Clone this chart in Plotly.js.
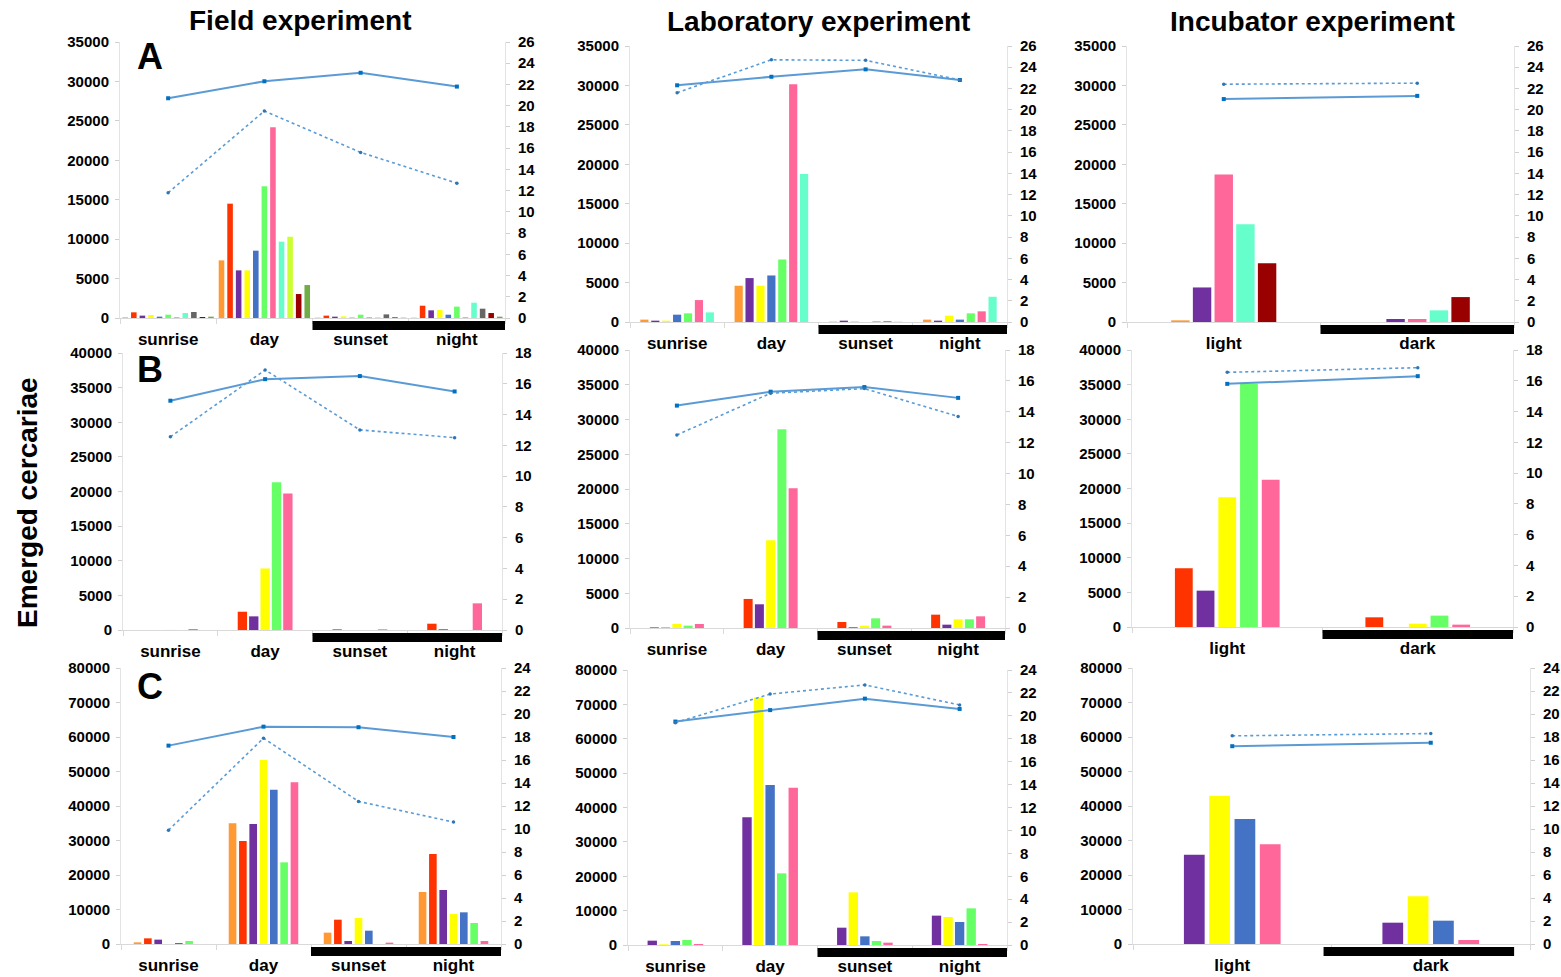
<!DOCTYPE html>
<html><head><meta charset="utf-8">
<script src="https://cdn.plot.ly/plotly-3.0.1.min.js"></script>
<style>html,body{margin:0;padding:0;background:#fff}#chart{width:1561px;height:977px}</style>
</head><body><div id="chart"></div>
<script>
// ---------------- DATA ----------------
const fieldCategories = ['sunrise', 'day', 'sunset', 'night'];
const incubatorCategories = ['light', 'dark'];
const columnTitles = ['Field experiment', 'Laboratory experiment', 'Incubator experiment'];
const rowLetters = ['A', 'B', 'C'];
const yAxisLabel = 'Emerged cercariae';

// Row A – Field (11 series; 9th series grey except day = yellow-green)
const fieldA_bars = [
  [80, 7310, 40, 40],
  [720, 14500, 300, 1560],
  [300, 6040, 170, 970],
  [380, 6040, 210, 1010],
  [170, 8540, 40, 420],
  [420, 16700, 420, 1440],
  [80, 24180, 80, 80],
  [630, 9680, 80, 1940],
  [760, 10310, 460, 1180],
  [130, 3040, 80, 630],
  [170, 4180, 40, 170]
];
const fieldA_tempSolid = [20.7, 22.3, 23.1, 21.8];
const fieldA_tempDotted = [11.8, 19.5, 15.6, 12.7];

// Row A – Laboratory (7 series)
const labA_bars = [
  [300, 4600, 40, 300],
  [170, 5570, 170, 170],
  [170, 4600, 130, 800],
  [930, 5900, 0, 300],
  [1100, 7930, 130, 1100],
  [2780, 30150, 130, 1350],
  [1220, 18760, 40, 3200]
];
const labA_tempSolid = [22.3, 23.1, 23.8, 22.8];
const labA_tempDotted = [21.6, 24.7, 24.65, 22.8];

// Row A – Incubator (5 series)
const incA_bars = [
  [210, 0],
  [4380, 380],
  [18720, 380],
  [12390, 1480],
  [7460, 3160]
];
const incA_tempSolid = [21.0, 21.3];
const incA_tempDotted = [22.4, 22.5];

// Row B – Field (5 series)
const fieldB_bars = [
  [0, 2640, 100, 910],
  [0, 1970, 0, 100],
  [20, 8890, 0, 0],
  [0, 21350, 0, 0],
  [140, 19710, 100, 3850]
];
const fieldB_tempSolid = [14.9, 16.3, 16.5, 15.5];
const fieldB_tempDotted = [12.55, 16.9, 13.0, 12.5];

// Row B – Laboratory (5 series)
const labB_bars = [
  [100, 4180, 860, 1920],
  [50, 3410, 100, 480],
  [580, 12630, 340, 1250],
  [340, 28580, 1390, 1250],
  [580, 20120, 340, 1680]
];
const labB_tempSolid = [14.4, 15.3, 15.6, 14.9];
const labB_tempDotted = [12.5, 15.2, 15.5, 13.7];

// Row B – Incubator (5 series)
const incB_bars = [
  [8480, 1400],
  [5250, 0],
  [18750, 480],
  [35130, 1640],
  [21250, 340]
];
const incB_tempSolid = [15.8, 16.3];
const incB_tempDotted = [16.55, 16.85];

// Row C – Field (7 series)
const fieldC_bars = [
  [480, 34980, 3290, 15070],
  [1640, 29860, 7050, 26090],
  [1260, 34780, 870, 15650],
  [0, 53330, 7540, 8700],
  [290, 44730, 3860, 9180],
  [870, 23670, 0, 6090],
  [0, 46860, 390, 870]
];
const fieldC_tempSolid = [17.25, 18.9, 18.85, 18.0];
const fieldC_tempDotted = [9.9, 17.9, 12.4, 10.6];

// Row C – Laboratory (5 series)
const labC_bars = [
  [1260, 37150, 5040, 8540],
  [190, 71970, 15320, 8150],
  [1160, 46560, 2520, 6690],
  [1450, 20850, 1160, 10670],
  [290, 45780, 680, 290]
];
const labC_tempSolid = [19.5, 20.5, 21.5, 20.6];
const labC_tempDotted = [19.4, 21.9, 22.7, 20.95];

// Row C – Incubator (4 series)
const incC_bars = [
  [25890, 6180],
  [43000, 13820],
  [36230, 6760],
  [28890, 1160]
];
const incC_tempSolid = [17.2, 17.5];
const incC_tempDotted = [18.1, 18.3];

// ---------------- STYLE ----------------
const C = {
  orange: '#FF9933', red: '#FF3300', purple: '#7030A0', yellow: '#FFFF00',
  blue: '#4472C4', green: '#66FF66', pink: '#FF6699', aqua: '#66FFCC',
  yg: '#CCFF33', grey: '#666666', dred: '#990000', olive: '#70AD47'
};
const W = 1561, H = 977;
const FONT = 'Liberation Sans, Arial, Helvetica, sans-serif';

const panels = [
  {cats: fieldCategories, bars: fieldA_bars, solid: fieldA_tempSolid, dotted: fieldA_tempDotted,
   colors: [C.orange, C.red, C.purple, C.yellow, C.blue, C.green, C.pink, C.aqua, [C.grey, C.yg, C.grey, C.grey], C.dred, C.olive],
   box: [120, 505, 42, 318], left: [35000, 5000], right: [26, 2], gap: 0.02, ggap: 0.35, night: [1.5, 3.5]},
  {cats: fieldCategories, bars: labA_bars, solid: labA_tempSolid, dotted: labA_tempDotted,
   colors: [C.orange, C.purple, C.yellow, C.blue, C.green, C.pink, C.aqua],
   box: [630, 1007, 46, 322], left: [35000, 5000], right: [26, 2], gap: 0.19, ggap: 0.25, night: [1.5, 3.5]},
  {cats: incubatorCategories, bars: incA_bars, solid: incA_tempSolid, dotted: incA_tempDotted,
   colors: [C.orange, C.purple, C.pink, C.aqua, C.dred],
   box: [1127, 1514, 46, 322], left: [35000, 5000], right: [26, 2], gap: 0.44, ggap: 0.15, night: [0.5, 1.5]},
  {cats: fieldCategories, bars: fieldB_bars, solid: fieldB_tempSolid, dotted: fieldB_tempDotted,
   colors: [C.red, C.purple, C.yellow, C.green, C.pink],
   box: [123, 502, 353, 630], left: [40000, 5000], right: [18, 2], gap: 0.40, ggap: 0.18, night: [1.5, 3.5]},
  {cats: fieldCategories, bars: labB_bars, solid: labB_tempSolid, dotted: labB_tempDotted,
   colors: [C.red, C.purple, C.yellow, C.green, C.pink],
   box: [630, 1005, 350, 628], left: [40000, 5000], right: [18, 2], gap: 0.40, ggap: 0.2, night: [1.5, 3.5]},
  {cats: incubatorCategories, bars: incB_bars, solid: incB_tempSolid, dotted: incB_tempDotted,
   colors: [C.red, C.purple, C.yellow, C.green, C.pink],
   box: [1132, 1513, 350, 627], left: [40000, 5000], right: [18, 2], gap: 0.43, ggap: 0.18, night: [0.5, 1.5]},
  {cats: fieldCategories, bars: fieldC_bars, solid: fieldC_tempSolid, dotted: fieldC_tempDotted,
   colors: [C.orange, C.red, C.purple, C.yellow, C.blue, C.green, C.pink],
   box: [121, 501, 668, 944], left: [80000, 10000], right: [24, 2], gap: 0.24, ggap: 0.26, night: [1.5, 3.5]},
  {cats: fieldCategories, bars: labC_bars, solid: labC_tempSolid, dotted: labC_tempDotted,
   colors: [C.purple, C.yellow, C.blue, C.green, C.pink],
   box: [628, 1007, 670, 945], left: [80000, 10000], right: [24, 2], gap: 0.39, ggap: 0.19, night: [1.5, 3.5]},
  {cats: incubatorCategories, bars: incC_bars, solid: incC_tempSolid, dotted: incC_tempDotted,
   colors: [C.purple, C.yellow, C.blue, C.pink],
   box: [1133, 1530, 668, 944], left: [80000, 10000], right: [24, 2], gap: 0.49, ggap: 0.18, night: [0.46, 1.42]}
];

const tickFont = {family: FONT, size: 15, color: '#000', weight: 'bold'};
const catFont = {family: FONT, size: 17, color: '#000', weight: 'bold'};

const data = [];
const layout = {
  width: W, height: H, margin: {l: 0, r: 0, t: 0, b: 0, pad: 0},
  paper_bgcolor: '#fff', plot_bgcolor: 'rgba(0,0,0,0)',
  showlegend: false, barmode: 'overlay', hovermode: false,
  shapes: [], annotations: []
};

panels.forEach((p, idx) => {
  const k = idx + 1;
  const xs = k === 1 ? '' : String(k);
  const xId = 'x' + xs, yId = 'y' + xs, y2Id = 'y' + (k + 9);
  const [L, R, T, Z] = p.box;
  const n = p.bars.length;
  const slot = (1 - p.gap) / n;
  p.bars.forEach((vals, i) => {
    data.push({
      type: 'bar', x: p.cats, y: vals, xaxis: xId, yaxis: yId,
      offset: -(1 - p.gap) / 2 + i * slot + slot * p.ggap / 2,
      width: slot * (1 - p.ggap),
      marker: {color: p.colors[i], line: {width: 0}}
    });
  });
  data.push({
    type: 'scatter', mode: 'lines+markers', x: p.cats, y: p.solid, xaxis: xId, yaxis: y2Id,
    line: {color: '#5B9BD5', width: 2}, marker: {symbol: 'square', size: 4, color: '#0070C0'}
  });
  data.push({
    type: 'scatter', mode: 'lines+markers', x: p.cats, y: p.dotted, xaxis: xId, yaxis: y2Id,
    line: {color: '#5B9BD5', width: 1.6, dash: 'dot'}, marker: {symbol: 'circle', size: 3.5, color: '#2E75B6'}
  });
  const nc = p.cats.length;
  layout['xaxis' + xs] = {
    domain: [L / W, R / W], anchor: yId, type: 'category', range: [-0.5, nc - 0.5],
    showline: true, linecolor: '#D9D9D9', linewidth: 1, showgrid: false, zeroline: false,
    ticks: 'outside', tickson: 'boundaries', ticklen: 5, tickcolor: '#D9D9D9',
    tickfont: catFont, ticklabelstandoff: 6, fixedrange: true
  };
  layout['yaxis' + xs] = {
    domain: [1 - Z / H, 1 - T / H], anchor: xId, range: [0, p.left[0]], dtick: p.left[1], tick0: 0,
    tickformat: 'd', showline: true, linecolor: '#E3E3E3', linewidth: 1, showgrid: false, zeroline: false,
    ticks: 'outside', ticklen: 4, tickcolor: '#D0D0D0', tickfont: tickFont, ticklabelstandoff: 3, fixedrange: true
  };
  layout['yaxis' + (k + 9)] = {
    overlaying: yId, anchor: xId, side: 'right', range: [0, p.right[0]], dtick: p.right[1], tick0: 0,
    showline: true, linecolor: '#E3E3E3', linewidth: 1, showgrid: false, zeroline: false,
    ticks: 'outside', ticklen: 4, tickcolor: '#D0D0D0', tickfont: tickFont, ticklabelstandoff: 5, fixedrange: true
  };
  const hpx = Z - T;
  layout.shapes.push({
    type: 'rect', xref: xId, yref: yId + ' domain',
    x0: p.night[0], x1: p.night[1], y0: -12 / hpx, y1: -3 / hpx,
    fillcolor: '#000', line: {width: 0}, layer: 'above'
  });
});

// Column titles
[[300, 20], [818, 22], [1312, 22]].forEach((pos, i) => {
  layout.annotations.push({
    xref: 'paper', yref: 'paper', x: pos[0] / W, y: 1 - pos[1] / H, xanchor: 'center', yanchor: 'middle',
    text: columnTitles[i], showarrow: false, font: {family: FONT, size: 28, color: '#000', weight: 'bold'}
  });
});
// Row letters
[[150, 56], [150, 370], [150, 686]].forEach((pos, i) => {
  layout.annotations.push({
    xref: 'paper', yref: 'paper', x: pos[0] / W, y: 1 - pos[1] / H, xanchor: 'center', yanchor: 'middle',
    text: rowLetters[i], showarrow: false, font: {family: FONT, size: 36, color: '#000', weight: 'bold'}
  });
});
// Y label
layout.annotations.push({
  xref: 'paper', yref: 'paper', x: 27 / W, y: 1 - 503 / H, xanchor: 'center', yanchor: 'middle',
  text: yAxisLabel, textangle: -90, showarrow: false, font: {family: FONT, size: 28, color: '#000', weight: 'bold'}
});

Plotly.newPlot('chart', data, layout, {staticPlot: true, displayModeBar: false});
</script></body></html>
